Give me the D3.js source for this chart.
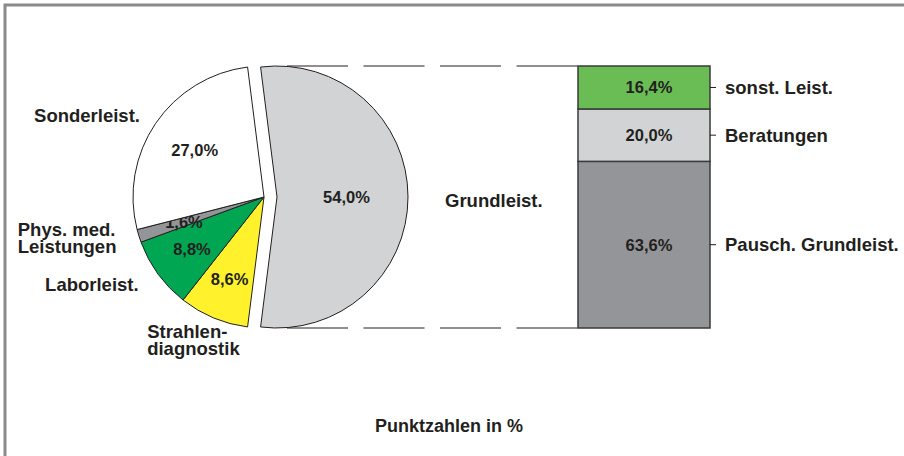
<!DOCTYPE html>
<html>
<head>
<meta charset="utf-8">
<script src="https://cdn.jsdelivr.net/npm/d3@7"></script>
<style>
  html, body { margin: 0; padding: 0; background: #fff; }
  svg { display: block; }
  text { font-family: "Liberation Sans", Arial, sans-serif; font-weight: bold; fill: #231f20; }
</style>
</head>
<body>
<script>
// ---- data ----
const pieCategories = ["Grundleist.", "Strahlen-\ndiagnostik", "Laborleist.", "Phys. med.\nLeistungen", "Sonderleist."];
const pieValues = [54.0, 8.6, 8.8, 1.6, 27.0];
const pieValueLabels = ["54,0%", "8,6%", "8,8%", "1,6%", "27,0%"];
const pieColors = ["#d1d3d4", "#fff22d", "#00a651", "#939598", "#ffffff"];

const barCategories = ["Pausch. Grundleist.", "Beratungen", "sonst. Leist."];
const barValues = [63.6, 20.0, 16.4];
const barValueLabels = ["63,6%", "20,0%", "16,4%"];
const barColors = ["#939598", "#d1d3d4", "#6abd54"];

const subtitle = "Punktzahlen in %";

// ---- layout ----
const W = 904, H = 456;
const svg = d3.select("body").append("svg").attr("width", W).attr("height", H);

// frame
svg.append("rect").attr("x", 5).attr("y", 5).attr("width", W + 20).attr("height", H + 20)
  .attr("fill", "none").attr("stroke", "#8a8a8a").attr("stroke-width", 3);

const cx = 264, cy = 197, R = 131, explode = 13;
const total = d3.sum(pieValues);
const firstAngle = pieValues[0] / total * 2 * Math.PI;
const start = Math.PI / 2 - firstAngle / 2;

const pie = d3.pie().sort(null).value(d => d).startAngle(start).endAngle(start + 2 * Math.PI);
const arcs = pie(pieValues);
const arc = d3.arc().innerRadius(0).outerRadius(R);

const g = svg.append("g").attr("transform", `translate(${cx},${cy})`);

arcs.forEach((a, i) => {
  const mid = (a.startAngle + a.endAngle) / 2;
  const off = i === 0 ? explode : 0;
  const gx = Math.sin(mid) * off, gy = -Math.cos(mid) * off;
  const sg = g.append("g").attr("transform", `translate(${gx},${gy})`);
  sg.append("path").attr("d", arc(a)).attr("fill", pieColors[i])
    .attr("stroke", "#231f20").attr("stroke-width", 1).attr("stroke-linejoin", "round");
  const lr = i === 0 ? R * 0.53 : (i === 3 || i === 4 ? R * 0.64 : R * 0.68);
  const lab = d3.arc().innerRadius(lr).outerRadius(lr).centroid(a);
  sg.append("text").attr("x", lab[0]).attr("y", lab[1]).attr("dy", "0.36em")
    .attr("text-anchor", "middle").style("font-size", "16.5px").text(pieValueLabels[i]);
});

// outer pie labels (placed from the slice mid-angle with layout offsets)
const outer = [
  {anchor: "start", dx: 37, dy: 3},      // Grundleist.
  {anchor: "start", dx: -59, dy: -4},    // Strahlen-
  {anchor: "end", dx: -4, dy: -1},       // Laborleist.
  {anchor: "start", dx: -103, dy: -12},  // Phys. med.
  {anchor: "end", dx: 0, dy: 3}          // Sonderleist.
];
arcs.forEach((a, i) => {
  const mid = (a.startAngle + a.endAngle) / 2;
  const rr = 150;
  let px = Math.sin(mid) * rr, py = -Math.cos(mid) * rr;
  if (i === 0) { px = Math.sin(mid) * (R + explode); py = 0; }
  const o = outer[i];
  const lines = pieCategories[i].split("\n");
  const t = g.append("text").attr("text-anchor", o.anchor).style("font-size", "18.5px");
  lines.forEach((ln, k) => {
    t.append("tspan").attr("x", px + o.dx).attr("y", py + o.dy + k * 17).attr("dy", "0.36em").text(ln);
  });
});

// stacked bar
const y = d3.scaleLinear().domain([0, d3.sum(barValues)]).range([cy + R, cy - R]);
const x = d3.scaleBand().domain(["bar"]).range([578, 710]).padding(0);
const cum = d3.cumsum(barValues);
const segs = barValues.map((v, i) => ({v, i, y0: cum[i] - v, y1: cum[i]}));

// connector dashed lines
[d3.sum(barValues), 0].forEach(v => {
  svg.append("line").attr("x1", 287).attr("x2", x("bar"))
    .attr("y1", y(v)).attr("y2", y(v))
    .attr("stroke", "#231f20").attr("stroke-width", 1.2)
    .attr("stroke-dasharray", "61,15.5");
});

const bg = svg.append("g");
bg.selectAll("rect").data(segs).join("rect")
  .attr("x", x("bar")).attr("width", x.bandwidth())
  .attr("y", d => y(d.y1)).attr("height", d => y(d.y0) - y(d.y1))
  .attr("fill", d => barColors[d.i]).attr("stroke", "#3a3a3a").attr("stroke-width", 1.5);

bg.selectAll("text.val").data(segs).join("text").attr("class", "val")
  .attr("x", x("bar") + x.bandwidth() / 2 + 5)
  .attr("y", d => y((d.y0 + d.y1) / 2)).attr("dy", "0.36em")
  .attr("text-anchor", "middle").style("font-size", "16.5px")
  .text(d => barValueLabels[d.i]);

const xr = x("bar") + x.bandwidth();
bg.selectAll("line.tick").data(segs).join("line").attr("class", "tick")
  .attr("x1", xr).attr("x2", xr + 6)
  .attr("y1", d => y((d.y0 + d.y1) / 2)).attr("y2", d => y((d.y0 + d.y1) / 2))
  .attr("stroke", "#231f20").attr("stroke-width", 1);

bg.selectAll("text.cat").data(segs).join("text").attr("class", "cat")
  .attr("x", xr + 15)
  .attr("y", d => y((d.y0 + d.y1) / 2)).attr("dy", "0.36em")
  .style("font-size", "18.5px")
  .text(d => barCategories[d.i]);

svg.append("text").attr("x", 449).attr("y", 432).attr("text-anchor", "middle")
  .style("font-size", "18px").text(subtitle);
</script>
</body>
</html>
